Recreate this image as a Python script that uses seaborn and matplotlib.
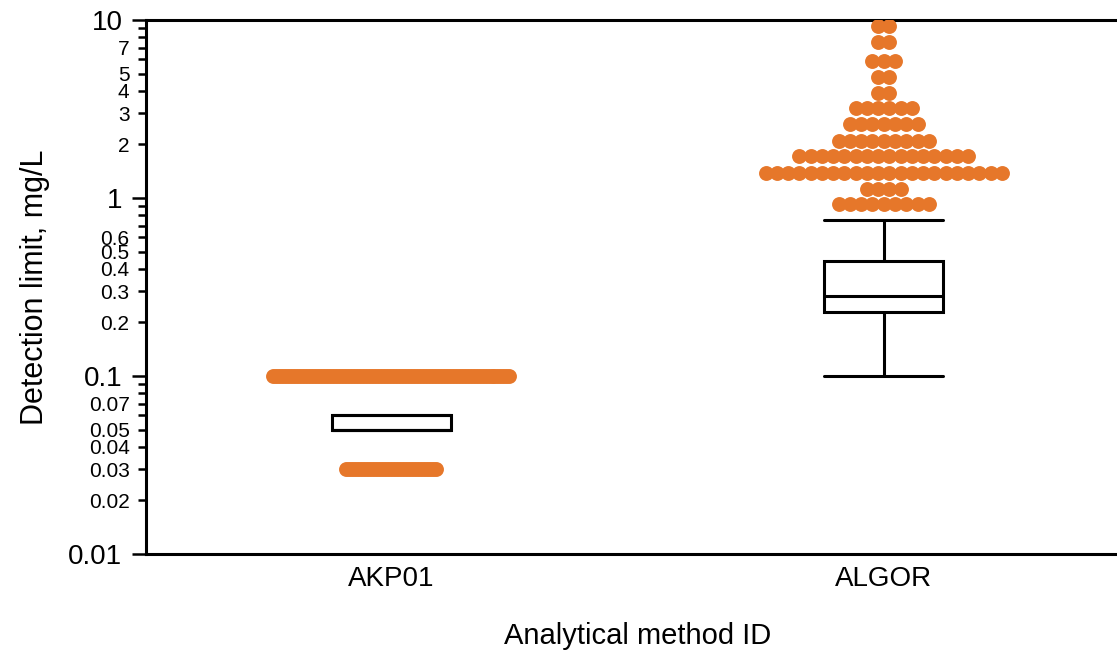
import numpy as np
import pandas as pd
import matplotlib
matplotlib.use("Agg")
import matplotlib.pyplot as plt
from matplotlib import ticker
from matplotlib.cbook import boxplot_stats
import seaborn as sns

# ---- data -------------------------------------------------------------
methods = ["AKP01", "ALGOR"]

# reported detection limits (mg/L) and how many samples share each value
akp01_levels = [0.03, 0.05, 0.06, 0.1]
akp01_counts = [31, 200, 120, 80]

algor_levels = [0.1, 0.15, 0.2, 0.23, 0.25, 0.28, 0.32, 0.38, 0.44, 0.5, 0.6, 0.75,
                0.92, 1.12, 1.39, 1.72, 2.1, 2.6, 3.2, 3.9, 4.8, 5.9, 7.5, 9.2]
algor_counts = [10, 20, 40, 60, 40, 60, 30, 25, 30, 8, 6, 3,
                9, 4, 22, 16, 9, 7, 6, 2, 2, 3, 2, 2]

# y-axis ticks
major_ticks = [0.01, 0.1, 1, 10]
major_labels = ["0.01", "0.1", "1", "10"]
labeled_minor = [0.02, 0.03, 0.04, 0.05, 0.07,
                 0.2, 0.3, 0.4, 0.5, 0.6,
                 2, 3, 4, 5, 7]
labeled_minor_text = ["0.02", "0.03", "0.04", "0.05", "0.07",
                      "0.2", "0.3", "0.4", "0.5", "0.6",
                      "2", "3", "4", "5", "7"]

ORANGE = "#E6772A"

# ---- build long-form table --------------------------------------------
levels = {"AKP01": akp01_levels, "ALGOR": algor_levels}
counts = {"AKP01": akp01_counts, "ALGOR": algor_counts}

frames = []
for i, m in enumerate(methods):
    vals = np.repeat(levels[m], counts[m])
    frames.append(pd.DataFrame({"method": m, "pos": float(i), "value": vals}))
df = pd.concat(frames, ignore_index=True)

# ---- outliers laid out as rows of dots --------------------------------
ROW_SPAN = 0.48      # widest row, in category units (dot centres)
DOT_PITCH = 0.0229   # natural spacing between neighbouring dots

flier_rows = []
for i, m in enumerate(methods):
    stats = boxplot_stats(df.loc[df.method == m, "value"].to_numpy(), whis=1.5)[0]
    fl = np.asarray(stats["fliers"])
    if fl.size == 0:
        continue
    lv, ct = np.unique(fl, return_counts=True)
    pitch = min(DOT_PITCH, ROW_SPAN / max(ct.max() - 1, 1))
    for v, n in zip(lv, ct):
        off = (np.arange(n) - (n - 1) / 2) * pitch
        flier_rows.append(pd.DataFrame({"x": i + off, "value": v}))
fliers = pd.concat(flier_rows, ignore_index=True)

# ---- style --------------------------------------------------------------
sns.set_theme(style="ticks", rc={
    "axes.edgecolor": "black",
    "axes.labelcolor": "black",
    "text.color": "black",
    "xtick.color": "black",
    "ytick.color": "black",
    "axes.linewidth": 2.2,
})
plt.rcParams["font.family"] = ["Liberation Sans", "DejaVu Sans"]

fig = plt.figure(figsize=(11.17, 6.5), dpi=100)
ax = fig.add_axes([146 / 1117, 96 / 650, 984 / 1117, 534 / 650])

sns.boxplot(data=df, x="pos", y="value", native_scale=True, orient="x",
            width=0.242, whis=1.5, showfliers=False,
            color="white", linecolor="black", linewidth=2.2,
            capwidths=0.242, ax=ax)

sns.scatterplot(data=fliers, x="x", y="value", s=115, color=ORANGE,
                linewidth=0, zorder=3, legend=False, ax=ax)

ax.set_yscale("log")
ax.set_ylim(0.01, 10)
ax.set_xlim(-0.498, 1.5)

# y ticks: decades large, selected in-between values smaller
ax.yaxis.set_major_locator(ticker.FixedLocator(major_ticks))
ax.yaxis.set_major_formatter(ticker.FixedFormatter(major_labels))
minor_pos = [mult * 10.0 ** e for e in (-2, -1, 0) for mult in range(2, 10)]
ax.yaxis.set_minor_locator(ticker.FixedLocator(minor_pos))
minor_lookup = dict(zip(labeled_minor, labeled_minor_text))


def minor_fmt(v, pos):
    for key, txt in minor_lookup.items():
        if abs(v - key) / key < 1e-6:
            return txt
    return ""


ax.yaxis.set_minor_formatter(ticker.FuncFormatter(minor_fmt))
ax.tick_params(axis="y", which="major", length=10, width=1.8, labelsize=20, pad=7)
ax.tick_params(axis="y", which="minor", length=5.8, width=1.8, labelsize=15, pad=6)

ax.set_xticks(range(len(methods)), methods)
ax.tick_params(axis="x", which="both", length=0, labelsize=20, pad=9)

ax.spines["right"].set_visible(False)
ax.spines["top"].set_visible(True)

ax.set_xlabel("Analytical method ID", fontsize=21, labelpad=21)
ax.set_ylabel("Detection limit, mg/L", fontsize=22)
ax.yaxis.set_label_coords(-0.098, 0.5)

fig.savefig("out.png", dpi=100)
